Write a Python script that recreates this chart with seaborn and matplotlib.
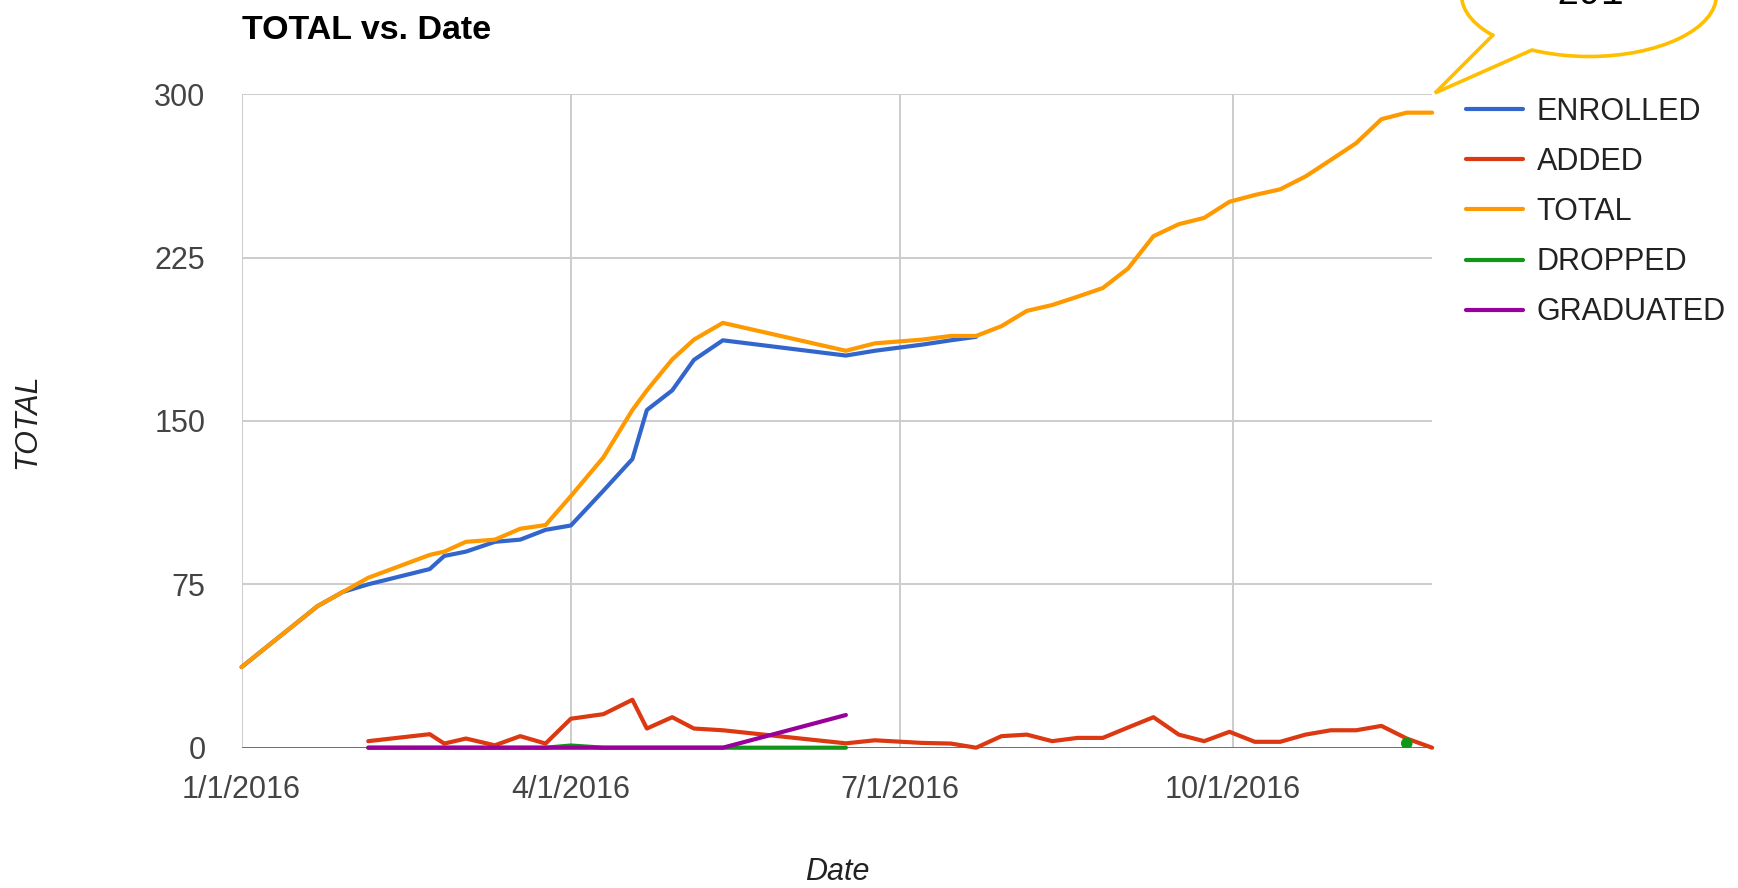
import numpy as np
import pandas as pd
import matplotlib
matplotlib.use('Agg')
import matplotlib.pyplot as plt
from matplotlib.lines import Line2D
from matplotlib.patches import Ellipse, Polygon
import seaborn as sns

nan = np.nan

dates = ['2016-01-01', '2016-01-22', '2016-01-29', '2016-02-05', '2016-02-22', '2016-02-26',
         '2016-03-03', '2016-03-11', '2016-03-18', '2016-03-25', '2016-04-01', '2016-04-10',
         '2016-04-18', '2016-04-22', '2016-04-29', '2016-05-05', '2016-05-13', '2016-06-16',
         '2016-06-24', '2016-07-07', '2016-07-15', '2016-07-22', '2016-07-29', '2016-08-05',
         '2016-08-12', '2016-08-19', '2016-08-26', '2016-09-02', '2016-09-09', '2016-09-16',
         '2016-09-23', '2016-09-30', '2016-10-07', '2016-10-14', '2016-10-21', '2016-10-28',
         '2016-11-04', '2016-11-11', '2016-11-18', '2016-11-25']

enrolled = [37, 65, 71.5, 75, 82, 88, 90, 94.5, 95.5, 100, 102, 118, 132.5, 155, 164, 178,
            187, 180, 182.2, 185, 187, 188.6] + [nan] * 18
added = [nan, nan, nan, 3, 6.2, 1.9, 4.2, 1.1, 5.3, 1.9, 13.3, 15.4, 22, 8.8, 14, 8.8, 8,
         2, 3.4, 2.2, 1.9, 0, 5.3, 6, 3, 4.5, 4.5, 9.3, 14, 6, 3, 7.3, 2.7, 2.7, 6, 8, 8,
         10, 4.2, 0]
total = [37, 65, 71.5, 78, 88.5, 90, 94.5, 95.5, 100.5, 102.2, 115.5, 133.3, 155, 164,
         178.2, 187.3, 195, 182.2, 185.6, 187.3, 189, 189, 193.5, 200.5, 203.2, 207, 211,
         220, 234.8, 240.3, 243.2, 250.6, 253.7, 256.3, 262.2, 269.8, 277.5, 288.5, 291.5,
         291.5]
dropped = [nan, nan, nan] + [0] * 7 + [1] + [0] * 7 + [nan] * 20 + [2, nan]
graduated = [nan, nan, nan] + [0] * 14 + [15] + [nan] * 22

series_names = ['ENROLLED', 'ADDED', 'TOTAL', 'DROPPED', 'GRADUATED']
series_values = [enrolled, added, total, dropped, graduated]
colors = ['#3366CC', '#DC3912', '#FF9900', '#109618', '#990099']
palette = dict(zip(series_names, colors))

y_ticks = [0, 75, 150, 225, 300]
x_ticks = ['2016-01-01', '2016-04-01', '2016-07-01', '2016-10-01']
x_tick_labels = ['1/1/2016', '4/1/2016', '7/1/2016', '10/1/2016']

# long format, with a run id so gaps (missing values) break the lines
frames = []
for name, vals in zip(series_names, series_values):
    s = pd.DataFrame({'Date': pd.to_datetime(dates), 'value': vals, 'series': name})
    s['run'] = s['value'].isna().cumsum()
    s = s.dropna()
    s['run'] = name + '_' + s['run'].astype(str)
    frames.append(s)
df = pd.concat(frames, ignore_index=True)
run_size = df.groupby('run')['value'].transform('size')
lines_df = df[run_size > 1]
points_df = df[run_size == 1]

sns.set_style('white')
plt.rcParams['font.family'] = ['Liberation Sans', 'DejaVu Sans']

fig = plt.figure(figsize=(17.38, 8.88), dpi=100)
ax = fig.add_axes([0.139, 0.158, 0.685, 0.736])

sns.lineplot(data=lines_df, x='Date', y='value', hue='series', units='run',
             estimator=None, hue_order=series_names, palette=palette,
             linewidth=3.0, legend=False, ax=ax, sort=True)
sns.scatterplot(data=points_df, x='Date', y='value', hue='series', palette=palette,
                s=70, edgecolor='none', legend=False, ax=ax, zorder=3)
for ln in ax.lines:
    ln.set_clip_on(False)

ax.axhline(0, color='#555555', lw=1.8, zorder=1.5)

ax.set_xlim(pd.Timestamp('2016-01-01'), pd.Timestamp('2016-11-25'))
ax.set_ylim(0, 300)
ax.set_yticks(y_ticks)
ax.set_xticks(pd.to_datetime(x_ticks))
ax.set_xticklabels(x_tick_labels)
ax.grid(True, color='#cccccc', lw=1.4)
ax.set_axisbelow(True)
for sp in ax.spines.values():
    sp.set_visible(False)
ax.tick_params(length=0, labelsize=22, labelcolor='#444444')
ax.tick_params(axis='x', pad=20)
ax.tick_params(axis='y', pad=26)

ax.set_title('TOTAL vs. Date', loc='left', fontsize=24.5, fontweight='bold',
             color='black', pad=40)
ax.set_xlabel('Date', fontsize=22, style='italic', color='#222222')
ax.xaxis.set_label_coords(0.5, -0.19)
ax.xaxis.label.set_va('center')
ax.set_ylabel('TOTAL', fontsize=22, style='italic', color='#222222')
ax.yaxis.set_label_coords(-0.18, 0.5)
ax.yaxis.label.set_va('center')

handles = [Line2D([], [], color=palette[s], lw=3.0) for s in series_names]
leg = ax.legend(handles, series_names, loc='upper left', bbox_to_anchor=(1.0286, 0.996),
                frameon=False, fontsize=22, handlelength=1.85, handletextpad=0.45,
                labelspacing=0.66, borderpad=0, borderaxespad=0)
for t in leg.get_texts():
    t.set_color('#222222')

# speech bubble callout in the top right corner (pixel positions -> figure fraction)
W, H = 1738, 888
def fpt(px, py):
    return (px / W, 1 - py / H)

yellow = '#FFBF00'
bubble = Ellipse(fpt(1589, -5), width=255 / W, height=123 / H, transform=fig.transFigure,
                 facecolor='white', edgecolor=yellow, lw=2.6, zorder=10)
fig.add_artist(bubble)
tail_fill = Polygon([fpt(1498, 22), fpt(1493, 35), fpt(1435, 93), fpt(1532, 50), fpt(1538, 38)],
                    closed=True, transform=fig.transFigure, facecolor='white',
                    edgecolor='none', zorder=11)
fig.add_artist(tail_fill)
tail_pts = [fpt(1493, 35), fpt(1435, 93), fpt(1532, 50)]
fig.add_artist(Line2D([p[0] for p in tail_pts], [p[1] for p in tail_pts], color=yellow,
                      lw=2.6, transform=fig.transFigure, zorder=12,
                      solid_joinstyle='miter'))
fig.text(*fpt(1590, 4), '291', ha='center', va='baseline', fontsize=27,
         family='Liberation Mono', color='black', zorder=13)

fig.savefig('out.png', dpi=100)
